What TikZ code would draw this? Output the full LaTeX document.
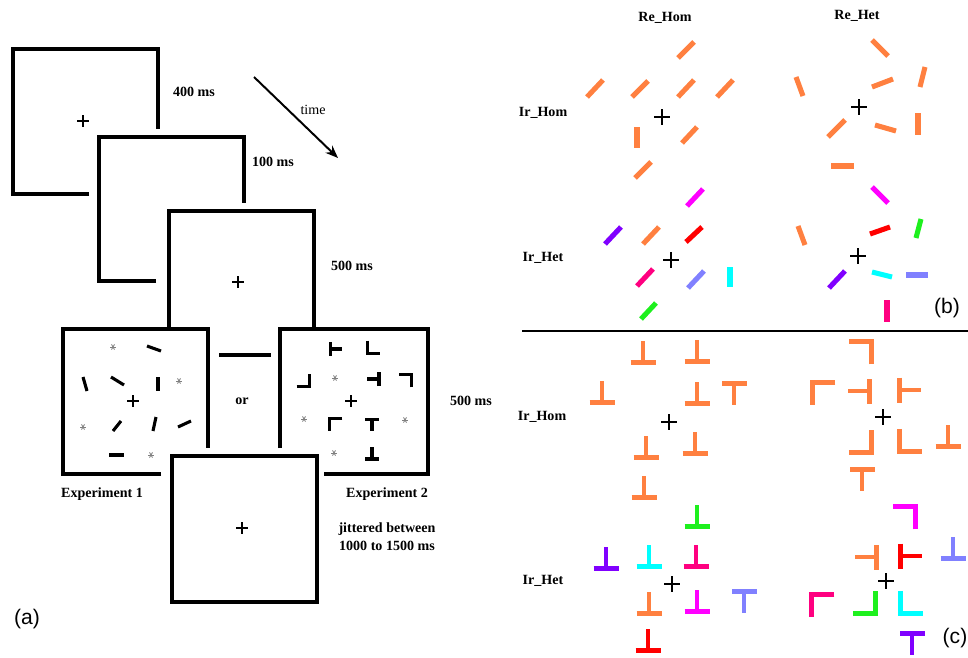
\documentclass[tikz,border=0pt]{standalone}
\usepackage{fontspec}
\setmainfont{Liberation Serif}
\newfontfamily\panelfont{Liberation Sans}
\usetikzlibrary{arrows.meta}
\definecolor{stimorange}{RGB}{255,128,64}
\definecolor{stimmagenta}{RGB}{255,0,255}
\definecolor{stimpurple}{RGB}{128,0,255}
\definecolor{stimred}{RGB}{255,0,0}
\definecolor{stimpink}{RGB}{255,0,128}
\definecolor{stimblue}{RGB}{128,128,255}
\definecolor{stimcyan}{RGB}{0,255,255}
\definecolor{stimgreen}{RGB}{30,240,30}
\tikzset{
tee/.pic={\draw (-1,0.85) -- (1,0.85) (0,-0.85) -- (0,0.85);},
ell/.pic={\draw (-0.9,-0.9) -- (-0.9,0.9) -- (0.9,0.9);},
fix/.pic={\draw (-1,0) -- (1,0) (0,-1) -- (0,1);},
ast/.pic={\foreach \a in {0,60,120} \draw[rotate=\a] (-1,0) -- (1,0);},
}

\begin{document}
\begin{tikzpicture}[
x=0.025cm, y=-0.025cm,
screen/.style={line width=2.2pt},
lab/.style={font=\fontsize{10}{12}\selectfont\bfseries, inner sep=0pt},
plain/.style={font=\fontsize{10}{12}\selectfont, inner sep=0pt},
tag/.style={font=\panelfont\fontsize{15}{18}\selectfont, inner sep=0pt},
bar/.style={line width=3.6pt},
blackbar/.style={line width=2.2pt},
bigshape/.style={line width=3.4pt, scale=12.5},
smallshape/.style={line width=2.2pt, scale=7},
lcross/.style={line width=1.1pt, scale=6},
rcross/.style={line width=0.9pt, scale=8},
star/.style={gray, line width=0.6pt, scale=3},
]
\useasboundingbox (0,0) rectangle (968,658);

\draw[screen] (89,194) -- (13,194) -- (13,49) -- (158,49) -- (158,129);
\draw[screen] (156,281) -- (99,281) -- (99,137) -- (244,137) -- (244,203);
\draw[screen] (169,329) -- (169,211) -- (314,211) -- (314,329);
\draw[screen] (219,355) -- (271,355);
\draw[screen] (161,474) -- (63,474) -- (63,329) -- (208,329) -- (208,448);
\draw[screen] (280,448) -- (280,329) -- (428,329) -- (428,474) -- (324,474);
\draw[screen] (172,456) rectangle (317,602);

\foreach \px/\py in {83/121, 238/282, 133/401, 351/401, 242/528}
  \pic[lcross] at (\px,\py) {fix};

\foreach \xa/\ya/\xb/\yb in {147/346/161/351, 83/377/87/391, 111/377/124/385,
  158/377/158/391, 113/431/121/421, 153/431/156/417, 178/427/191/421, 109/455/124/455}
  \draw[blackbar] (\xa,\ya) -- (\xb,\yb);

\foreach \px/\py in {113/347, 179/381, 83/427, 151/455, 335/378, 304/419, 405/420, 334/453}
  \pic[star] at (\px,\py) {ast};

\foreach \px/\py/\r/\s in {336/349/-90/tee, 374/347/0/ell, 303/380/90/ell, 373/379/90/tee,
  405/381/180/ell, 336/425/-90/ell, 372/425/180/tee, 372/453/0/tee}
  \pic[smallshape, rotate=\r] at (\px,\py) {\s};

\node[lab] (d400) at (194,92) {400 ms};
\node[lab] (d100) at (273,162) {100 ms};
\node[lab] (d500a) at (352,266) {500 ms};
\node[lab] (d500b) at (471,401) {500 ms};
\node[plain] (time) at (313,110) {time};
\node[lab] (or) at (242,401) {or};
\node[lab] (exp1) at (102,494) {Experiment 1};
\node[lab] (exp2) at (387,494) {Experiment 2};
\node[lab, align=center, font=\fontsize{10}{12.8}\selectfont\bfseries] (jitter) at (387,537)
  {jittered between\\1000 to 1500 ms};
\node[tag] (pa) at (27,619) {(a)};

\coordinate (tstart) at (254,77);
\coordinate (tend) at (338,158);
\draw[line width=1.4pt, -{Stealth[length=9pt, width=7pt]}] (tstart) -- (tend);

\node[lab] (rehom) at (665,18) {Re\_Hom};
\node[lab] (rehet) at (857,16) {Re\_Het};
\node[lab] (irhomb) at (543,113) {Ir\_Hom};
\node[lab] (irhetb) at (543,258) {Ir\_Het};
\node[lab] (irhomc) at (542,417) {Ir\_Hom};
\node[lab] (irhetc) at (543,581) {Ir\_Het};
\node[tag] (pb) at (947,308) {(b)};
\node[tag] (pc) at (955,638) {(c)};

\draw[line width=1.1pt] (522,331) -- (968,331);

\foreach \px/\py in {662/117, 859/107, 671/260, 858/256, 669/422, 883/417, 672/584, 886/581}
  \pic[rcross] at (\px,\py) {fix};

\foreach \c/\xa/\ya/\xb/\yb in {
  stimorange/678/58/694/42, stimorange/587/97/603/80, stimorange/632/97/648/81,
  stimorange/678/97/694/80, stimorange/717/97/733/80, stimorange/637/127/637/148,
  stimorange/682/143/697/127, stimorange/635/178/651/162,
  stimorange/872/40/888/56, stimorange/796/77/803/96, stimorange/872/87/893/79,
  stimorange/925/67/920/87, stimorange/828/137/845/120, stimorange/875/125/896/131,
  stimorange/918/113/918/135, stimorange/831/166/854/166,
  stimmagenta/687/206/703/189, stimpurple/605/244/621/227, stimorange/643/244/659/227,
  stimred/686/242/702/227, stimpink/637/286/653/269, stimblue/688/288/704/271,
  stimcyan/730/267/730/287, stimgreen/641/319/656/303,
  stimmagenta/872/187/888/203, stimorange/798/226/805/245, stimred/870/234/890/227,
  stimgreen/921/219/916/238, stimpurple/829/288/845/271, stimcyan/872/272/892/277,
  stimblue/906/275/928/275, stimpink/887/300/887/322}
  \draw[bar, \c] (\xa,\ya) -- (\xb,\yb);

\foreach \c/\px/\py/\r/\s in {
  stimorange/643/352/0/tee, stimorange/697/351/0/tee, stimorange/602/392/0/tee,
  stimorange/697/393/0/tee, stimorange/734/394/180/tee, stimorange/646/447/0/tee,
  stimorange/695/443/0/tee, stimorange/644/487/0/tee,
  stimorange/860/353/180/ell, stimorange/824/394/-90/ell, stimorange/859/391/90/tee,
  stimorange/910/390/-90/tee, stimorange/860/441/90/ell, stimorange/911/440/0/ell,
  stimorange/948/436/0/tee, stimorange/862/480/180/tee,
  stimgreen/697/516/0/tee, stimpurple/606/558/0/tee, stimcyan/649/556/0/tee,
  stimpink/696/556/0/tee, stimorange/649/603/0/tee, stimmagenta/697/601/0/tee,
  stimblue/744/602/180/tee, stimred/648/640/0/tee,
  stimmagenta/904/518/180/ell, stimblue/953/548/0/tee, stimorange/866/557/90/tee,
  stimred/911/556/-90/tee, stimpink/823/606/-90/ell, stimgreen/864/602/90/ell,
  stimcyan/912/602/0/ell, stimpurple/912/644/180/tee}
  \pic[bigshape, \c, rotate=\r] at (\px,\py) {\s};
\end{tikzpicture}
\end{document}
